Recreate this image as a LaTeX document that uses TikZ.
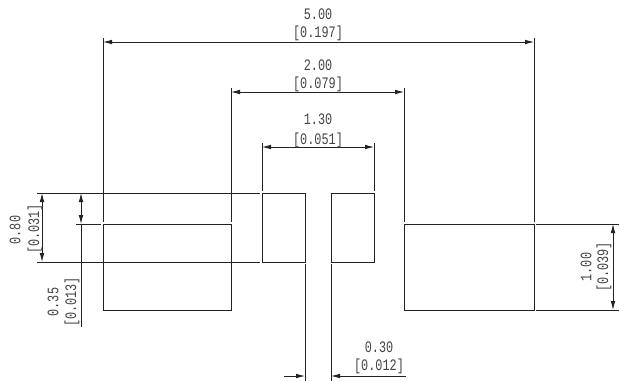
\documentclass[tikz,border=0pt]{standalone}
\usepackage{fontspec}
\usetikzlibrary{arrows.meta}
\newfontfamily\dimfont[FakeStretch=0.74]{Liberation Mono}
\definecolor{ink}{HTML}{222222}
\definecolor{txt}{HTML}{444444}
\tikzset{
  outline/.style={draw=ink,line width=0.85pt},
  ext/.style={draw=ink,line width=0.8pt},
  tip/.style={Latex[length=9pt,width=4.6pt]},
  dimline/.style={draw=ink,line width=0.8pt,{Latex[length=9pt,width=4.6pt]}-{Latex[length=9pt,width=4.6pt]}},
  endarrow/.style={draw=ink,line width=0.8pt,-{Latex[length=9pt,width=4.6pt]}},
  lab/.style={text=txt,inner sep=0pt,font=\dimfont\fontsize{16}{17}\selectfont},
  vlab/.style={lab,rotate=90}
}
\begin{document}
\begin{tikzpicture}[x=1pt,y=-1pt]
\useasboundingbox (0,0) rectangle (620,381);
% pads
\draw[outline] (103,224) rectangle (231,310);
\draw[outline] (404,224) rectangle (534,310);
\draw[outline] (262,193) rectangle (305,262);
\draw[outline] (331,193) rectangle (374,262);
% long horizontals
\draw[ext] (37,193) -- (260,193);
\draw[ext] (37,262) -- (260,262);
\draw[ext] (76,224) -- (101,224);
\draw[ext] (536,224) -- (619,224);
\draw[ext] (536,310) -- (619,310);
% extension lines
\draw[ext] (103,38) -- (103,222);
\draw[ext] (534,38) -- (534,222);
\draw[ext] (231,88) -- (231,222);
\draw[ext] (404,88) -- (404,222);
\draw[ext] (262,143) -- (262,191);
\draw[ext] (374,143) -- (374,191);
\draw[ext] (305,264) -- (305,381);
\draw[ext] (331,264) -- (331,381);
% dimension lines
\coordinate (a5) at (103,42); \coordinate (b5) at (534,42);
\draw[dimline] (a5) -- (b5);
\coordinate (a2) at (231,92); \coordinate (b2) at (404,92);
\draw[dimline] (a2) -- (b2);
\coordinate (a13) at (262,147); \coordinate (b13) at (374,147);
\draw[dimline] (a13) -- (b13);
\coordinate (a08) at (42,193); \coordinate (b08) at (42,262);
\draw[dimline] (a08) -- (b08);
\coordinate (a10) at (613,224); \coordinate (b10) at (613,310);
\draw[dimline] (a10) -- (b10);
\coordinate (a35) at (81,193); \coordinate (b35) at (81,224); \coordinate (c35) at (81,327);
\draw[dimline] (a35) -- (b35);
\draw[ext] (b35) -- (c35);
\coordinate (a30) at (284,376); \coordinate (b30) at (305,376);
\coordinate (c30) at (406,376); \coordinate (d30) at (331,376);
\draw[endarrow] (a30) -- (b30);
\draw[endarrow] (c30) -- (d30);
% labels
\node[lab] (t5a) at (318,14) {5.00};
\node[lab] (t5b) at (318,33) {[0.197]};
\node[lab] (t2a) at (318,65) {2.00};
\node[lab] (t2b) at (318,84) {[0.079]};
\node[lab] (t13a) at (318,119) {1.30};
\node[lab] (t13b) at (318,140) {[0.051]};
\node[lab] (t30a) at (379,347) {0.30};
\node[lab] (t30b) at (379,366) {[0.012]};
\node[vlab] (t08a) at (15,230) {0.80};
\node[vlab] (t08b) at (35,229) {[0.031]};
\node[vlab] (t35a) at (53,302) {0.35};
\node[vlab] (t35b) at (72,302) {[0.013]};
\node[vlab] (t10a) at (586,267) {1.00};
\node[vlab] (t10b) at (604,267) {[0.039]};
\end{tikzpicture}
\end{document}
